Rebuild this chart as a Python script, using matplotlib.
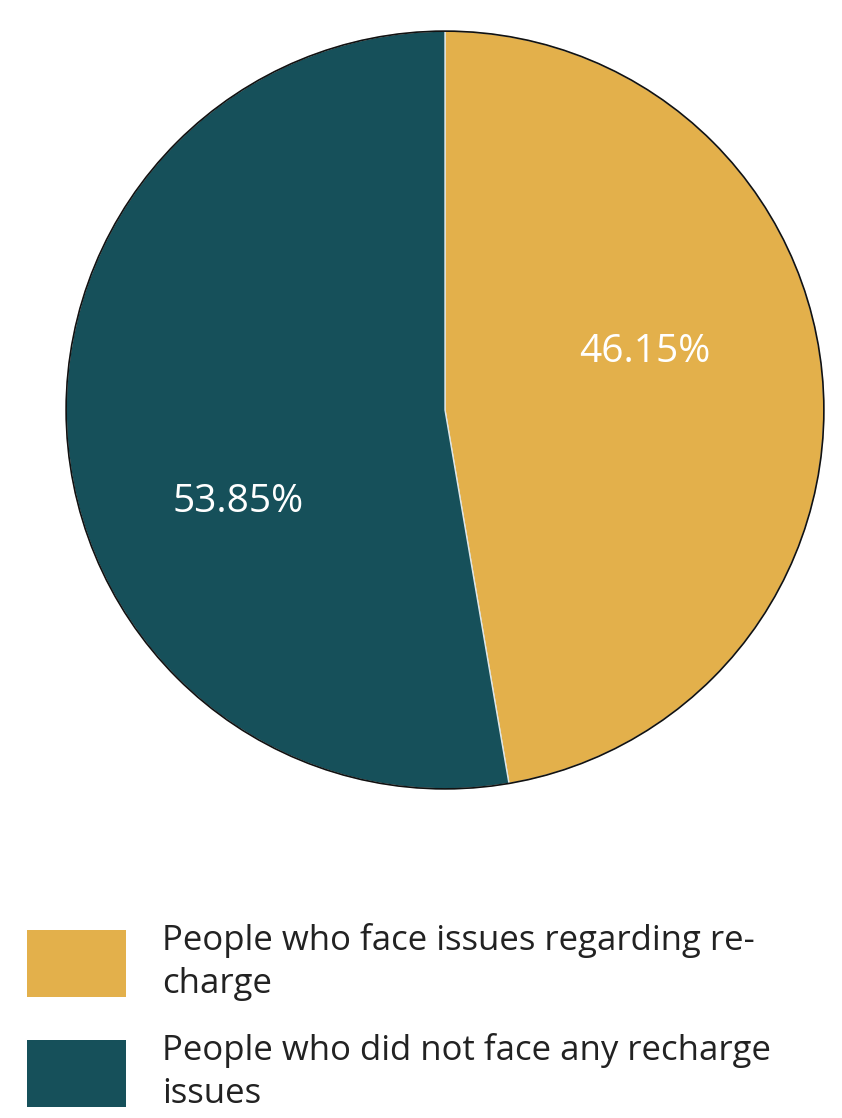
import matplotlib.pyplot as plt
from matplotlib.patches import Rectangle, Circle

# data
labels = ['People who face issues regarding re-\ncharge',
          'People who did not face any recharge\nissues']
shares = [47.3, 52.7]          # wedge sizes as drawn in the picture
colors = ['#E3B04B', '#16505A']
pct_text = ['46.15%', '53.85%']  # printed labels

plt.rcParams['font.family'] = ['Open Sans', 'DejaVu Sans']

fig = plt.figure(figsize=(8.42, 11.18), dpi=100)

# pie
ax = fig.add_axes([65 / 842, 328 / 1118, 760 / 842, 760 / 1118])
wedges, _ = ax.pie(shares, colors=colors, startangle=90, counterclock=False,
                   radius=1, wedgeprops=dict(edgecolor='#dfe6e6', linewidth=1.0))
ax.add_patch(Circle((0, 0), 1, fill=False, edgecolor='#111111', linewidth=1.2))
ax.set_xlim(-1.003, 1.003)
ax.set_ylim(-1.003, 1.003)
ax.set_aspect('equal')
ax.axis('off')

# percentage labels
ax.text(0.526, 0.153, pct_text[0], color='white', fontsize=28,
        ha='center', va='center')
ax.text(-0.545, -0.242, pct_text[1], color='white', fontsize=28,
        ha='center', va='center')

# legend drawn by hand
W, H = 842, 1118
box_tops = [930, 1040]
for lab, col, top in zip(labels, colors, box_tops):
    fig.patches.append(Rectangle((27 / W, 1 - (top + 67) / H), 99 / W, 67 / H,
                                 transform=fig.transFigure, facecolor=col,
                                 edgecolor='none'))
    fig.text(162 / W, 1 - (top - 7) / H, lab, fontsize=25, color='#222222',
             ha='left', va='top', linespacing=1.36)

fig.savefig('out.png', dpi=100)
